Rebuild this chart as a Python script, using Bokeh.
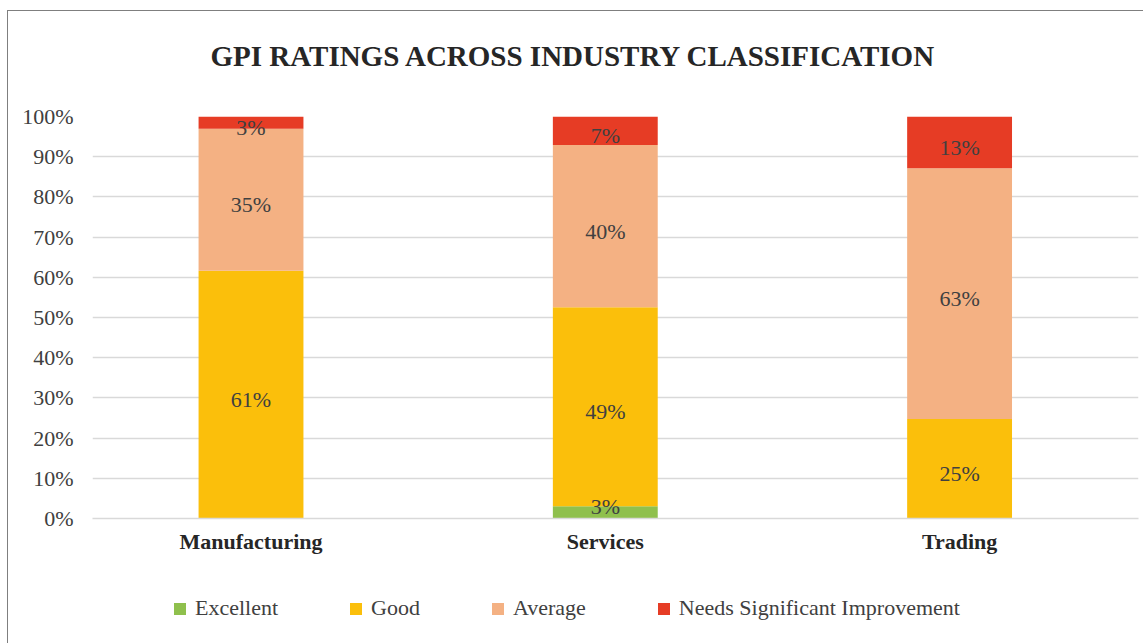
from bokeh.plotting import figure
from bokeh.models import ColumnDataSource, Range1d, FixedTicker, Title, Legend, LegendItem
from bokeh.layouts import column
from bokeh.embed import file_html
from bokeh.resources import INLINE
from bokeh.core.properties import value

categories = ["Manufacturing", "Services", "Trading"]
series = ["Excellent", "Good", "Average", "Needs Significant Improvement"]
excellent = [0, 3, 0]
good = [61, 49, 25]
average = [35, 40, 63]
needs = [3, 7, 13]
colors = ["#8fc04d", "#fbbf0b", "#f4b183", "#e63c25"]

raw = [excellent, good, average, needs]
keys = ["excellent", "good", "average", "needs"]
totals = [sum(r[i] for r in raw) for i in range(len(categories))]
xs = [i + 0.5 for i in range(len(categories))]
data = {"x": xs}
for k, r in zip(keys, raw):
    data[k] = [v / t * 100 for v, t in zip(r, totals)]
src = ColumnDataSource(data)

FONT = "Liberation Serif"
W = 1135


def blank(fig):
    fig.axis.visible = False
    fig.grid.visible = False
    fig.outline_line_color = None


# title strip
p0 = figure(width=W, height=80, output_backend="svg", toolbar_location=None,
            x_range=Range1d(0, 1), y_range=Range1d(0, 1),
            min_border_left=84, min_border_right=5, min_border_top=60, min_border_bottom=0)
blank(p0)
p0.add_layout(Title(text="GPI RATINGS ACROSS INDUSTRY CLASSIFICATION", align="left", offset=118,
                    text_font=FONT, text_font_style="bold", text_font_size="29px",
                    text_color="#262626", standoff=0), "above")

# main chart
x_range = Range1d(0.0526, 3.005)
p = figure(width=W, height=465, output_backend="svg", toolbar_location=None,
           x_range=x_range, y_range=Range1d(0, 100),
           min_border_left=84, min_border_right=5, min_border_top=25, min_border_bottom=37)
p.outline_line_color = None

rends = p.vbar_stack(keys, x="x", width=0.296, source=src, color=colors, line_color=None)

# data labels
lx, ly, lt = [], [], []
for i in range(len(categories)):
    base = 0.0
    for k, rr in zip(keys, raw):
        share = data[k][i]
        if rr[i] > 0:
            lx.append(xs[i])
            ly.append(max(base + share / 2, 4.3))
            lt.append(f"{rr[i]}%")
        base += share
p.text(x=lx, y=ly, text=lt, text_align="center", text_baseline="middle",
       text_font=value(FONT), text_font_size="22px", text_color="#404040", y_offset=5)

p.xaxis.ticker = FixedTicker(ticks=xs)
p.xaxis.major_label_overrides = {x: c for x, c in zip(xs, categories)}
p.xaxis.major_label_text_font = FONT
p.xaxis.major_label_text_font_style = "bold"
p.xaxis.major_label_text_font_size = "22px"
p.xaxis.major_label_text_color = "#262626"
p.xaxis.major_tick_line_color = None
p.xaxis.minor_tick_line_color = None
p.xaxis.axis_line_color = "#d9d9d9"
p.xaxis.axis_line_width = 1.5
p.xaxis.major_label_standoff = 4

p.yaxis.ticker = FixedTicker(ticks=list(range(0, 101, 10)))
p.yaxis.major_label_overrides = {v: f"{v}%" for v in range(0, 101, 10)}
p.yaxis.major_label_text_font = FONT
p.yaxis.major_label_text_font_size = "22px"
p.yaxis.major_label_text_color = "#404040"
p.yaxis.major_tick_line_color = None
p.yaxis.minor_tick_line_color = None
p.yaxis.axis_line_color = None
p.yaxis.major_label_standoff = 13

p.xgrid.grid_line_color = None
p.ygrid.grid_line_color = "#d9d9d9"
p.ygrid.grid_line_width = 1.5

# legend strip (same stacked series, drawn outside its visible y range, only for the legend keys)
p2 = figure(width=W, height=88, output_backend="svg", toolbar_location=None,
            x_range=x_range, y_range=Range1d(1000, 1001),
            min_border_left=84, min_border_right=5, min_border_top=0, min_border_bottom=0)
blank(p2)
keyrends = p2.vbar_stack(keys, x="x", width=0.296, source=src, color=colors, line_color=None)
leg = Legend(items=[LegendItem(label=s, renderers=[r]) for s, r in zip(series, keyrends)],
             orientation="horizontal", location=(80, 23))
leg.label_text_font = FONT
leg.label_text_font_size = "22px"
leg.label_text_color = "#404040"
leg.glyph_width = 15
leg.glyph_height = 15
leg.label_standoff = 8
leg.spacing = 70
leg.padding = 0
leg.margin = 0
leg.border_line_color = None
leg.background_fill_alpha = 0
p2.add_layout(leg)

layout = column(p0, p, p2, spacing=0, margin=(10, 0, 0, 7),
                styles={"border-left": "1.5px solid #7f7f7f", "border-top": "1.5px solid #7f7f7f"})

open("out.html", "w").write(file_html(layout, INLINE))
